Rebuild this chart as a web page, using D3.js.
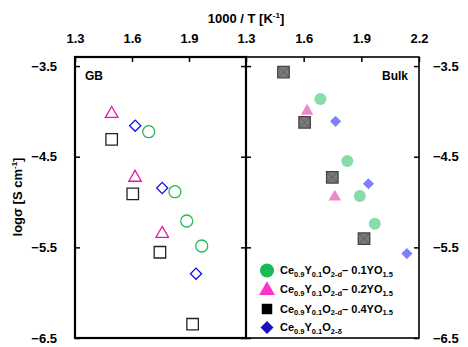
<!DOCTYPE html>
<html>
<head>
<meta charset="utf-8">
<script src="https://cdn.jsdelivr.net/npm/d3@7"></script>
<style>
  body { margin: 0; background: #fff; }
  text { font-family: "Liberation Sans", Arial, sans-serif; font-weight: bold; }
</style>
</head>
<body>
<script>
// x tick labels per panel and y ticks
const gbTicks = [1.3, 1.6, 1.9]
const bulkTicks = [1.3, 1.6, 1.9, 2.2]
const yTicks = [-3.5, -4.5, -5.5, -6.5]

// GB panel (open markers) : [1000/T, log sigma]
const gbCircle = [[1.688, -4.224], [1.826, -4.886], [1.888, -5.209], [1.967, -5.485]]
const gbTriangle = [[1.493, -4.015], [1.616, -4.720], [1.759, -5.338]]
const gbSquare = [[1.493, -4.308], [1.604, -4.911], [1.747, -5.554], [1.919, -6.348]]
const gbDiamond = [[1.617, -4.158], [1.759, -4.845], [1.937, -5.790]]

// Bulk panel (filled markers)
const bulkCircle = [[1.687, -3.864], [1.827, -4.547], [1.892, -4.933], [1.970, -5.239]]
const bulkTriangle = [[1.618, -3.985], [1.762, -4.933]]
const bulkSquare = [[1.495, -3.566], [1.605, -4.121], [1.749, -4.727], [1.914, -5.404]]
const bulkDiamond = [[1.766, -4.110], [1.937, -4.798], [2.137, -5.569]]

const W = 468, H = 347
const yTop = 57, yBottom = 338
const svg = d3.select('body').append('svg')
    .attr('width', W).attr('height', H)

const y = d3.scaleLinear().domain([-6.5, -3.4]).range([yBottom, yTop])
const xGB = d3.scaleLinear().domain([1.3, 2.2]).range([75, 246])
const xBulk = d3.scaleLinear().domain([1.3, 2.2]).range([246, 419])

const sym = {
    circle: d3.symbol().type(d3.symbolCircle).size(Math.PI * 36),
    triangle: d3.symbol().type(d3.symbolTriangle).size(68),
    square: d3.symbol().type(d3.symbolSquare).size(132),
    diamond: d3.symbol().type(d3.symbolSquare).size(62)
}

function drawPoints(g, data, x, kind, fill, stroke, sw) {
    const sel = g.selectAll(null).data(data).enter().append('g')
        .attr('transform', d => `translate(${x(d[0])},${y(d[1])})`)
    sel.append('path')
        .attr('d', sym[kind]())
        .attr('transform', kind === 'diamond' ? 'rotate(45)' : kind === 'triangle' ? 'translate(0,1)' : null)
        .attr('fill', fill)
        .attr('stroke', stroke)
        .attr('stroke-width', sw)
    return sel
}

// ---- axes ----
function panelAxes(x, ticks, showLeft, showRight) {
    const g = svg.append('g')
    g.append('g')
        .attr('transform', `translate(0,${yTop})`)
        .call(d3.axisTop(x).tickValues(ticks).tickSizeInner(-5).tickSizeOuter(0).tickPadding(14).tickFormat(d3.format('.1f')))
        .call(a => a.select('.domain').remove())
        .call(a => a.selectAll('text').attr('font-size', 13).attr('fill', '#000'))
    const left = g.append('g')
        .attr('transform', `translate(${x.range()[0]},0)`)
        .call(d3.axisLeft(y).tickValues(yTicks).tickSizeInner(-5).tickSizeOuter(0).tickPadding(18).tickFormat(d3.format('.1f')))
        .call(a => a.select('.domain').remove())
    left.selectAll('text').attr('font-size', 13).attr('fill', '#000')
    if (!showLeft) left.selectAll('text').remove()
    const right = g.append('g')
        .attr('transform', `translate(${x.range()[1]},0)`)
        .call(d3.axisRight(y).tickValues(yTicks).tickSizeInner(-5).tickSizeOuter(0).tickPadding(14).tickFormat(d3.format('.1f')))
        .call(a => a.select('.domain').remove())
    right.selectAll('text').attr('font-size', 13).attr('fill', '#000')
    if (!showRight) right.selectAll('text').remove()
    g.selectAll('.tick line').attr('stroke', '#000').attr('stroke-width', 1.5)
    return g
}

// left panel top labels: 1.3 1.6 1.9 only, right panel full
panelAxes(xGB, gbTicks, true, false)
panelAxes(xBulk, bulkTicks, false, true)

// frames
svg.append('rect')
    .attr('x', xGB.range()[0]).attr('y', yTop)
    .attr('width', xGB.range()[1] - xGB.range()[0]).attr('height', yBottom - yTop)
    .attr('fill', 'none').attr('stroke', '#000').attr('stroke-width', 2.2)
svg.append('rect')
    .attr('x', xBulk.range()[0]).attr('y', yTop)
    .attr('width', xBulk.range()[1] - xBulk.range()[0]).attr('height', yBottom - yTop)
    .attr('fill', 'none').attr('stroke', '#000').attr('stroke-width', 1.6)

// titles
svg.append('text').attr('x', 246).attr('y', 23).attr('text-anchor', 'middle')
    .attr('font-size', 13)
    .text('1000 / T [K')
    .call(t => t.append('tspan').attr('dy', -5).attr('font-size', 8).text('-1'))
    .call(t => t.append('tspan').attr('dy', 5).text(']'))

svg.append('text')
    .attr('transform', 'translate(22,197) rotate(-90)')
    .attr('text-anchor', 'middle').attr('font-size', 13)
    .text('logσ [S cm')
    .call(t => t.append('tspan').attr('dy', -5).attr('font-size', 8).text('-1'))
    .call(t => t.append('tspan').attr('dy', 5).text(']'))

svg.append('text').attr('x', 85).attr('y', 80).attr('font-size', 12).text('GB')
svg.append('text').attr('x', 408).attr('y', 80).attr('text-anchor', 'end').attr('font-size', 12).text('Bulk')

// ---- GB points ----
const gGB = svg.append('g')
drawPoints(gGB, gbTriangle, xGB, 'triangle', 'none', '#e2189f', 1.3)
drawPoints(gGB, gbSquare, xGB, 'square', 'none', '#222', 1.3)
drawPoints(gGB, gbDiamond, xGB, 'diamond', 'none', '#1010ee', 1.3)
drawPoints(gGB, gbCircle, xGB, 'circle', 'none', '#22bb55', 1.3)

// ---- Bulk points ----
const gB = svg.append('g')
drawPoints(gB, bulkCircle, xBulk, 'circle', '#88dcaa', 'none', 0)
drawPoints(gB, bulkTriangle, xBulk, 'triangle', '#ee88cc', 'none', 0)
const sq = drawPoints(gB, bulkSquare, xBulk, 'square', '#7a7a7a', '#444', 1.3)
sq.append('path').attr('d', 'M-5,-5L5,5M-5,5L5,-5').attr('stroke', '#555').attr('stroke-width', 0.8)
drawPoints(gB, bulkDiamond, xBulk, 'diamond', '#8080ff', 'none', 0)

// ---- legend ----
const legendRows = [
    { kind: 'circle', color: '#19b955', sub: ['Ce', '0.9', 'Y', '0.1', 'O', '2-d', '\u2013 0.1YO', '1.5'] },
    { kind: 'triangle', color: '#ff33cc', sub: ['Ce', '0.9', 'Y', '0.1', 'O', '2-d', '\u2013 0.2YO', '1.5'] },
    { kind: 'square', color: '#000', sub: ['Ce', '0.9', 'Y', '0.1', 'O', '2-d', '\u2013 0.4YO', '1.5'] },
    { kind: 'diamond', color: '#1c10b8', sub: ['Ce', '0.9', 'Y', '0.1', 'O', '2-\u03b4'] }
]
const legendY = [270.5, 289.5, 309, 327.5]
const legSym = {
    circle: d3.symbol().type(d3.symbolCircle).size(Math.PI * 49),
    triangle: d3.symbol().type(d3.symbolTriangle).size(110),
    square: d3.symbol().type(d3.symbolSquare).size(110),
    diamond: d3.symbol().type(d3.symbolSquare).size(85)
}
const leg = svg.append('g')
legendRows.forEach((r, i) => {
    leg.append('path')
        .attr('d', legSym[r.kind]())
        .attr('transform', `translate(267,${legendY[i]})` + (r.kind === 'diamond' ? ' rotate(45)' : r.kind === 'triangle' ? ' translate(0,1)' : ''))
        .attr('fill', r.color)
    const t = leg.append('text').attr('x', 280).attr('y', legendY[i] + 3.5).attr('font-size', 11)
    r.sub.forEach((s, j) => {
        const isSub = j % 2 === 1
        t.append('tspan')
            .attr('font-size', isSub ? 7.5 : 11)
            .attr('dy', j === 0 ? 0 : (isSub ? 2.5 : -2.5))
            .text(s)
    })
})
</script>
</body>
</html>
